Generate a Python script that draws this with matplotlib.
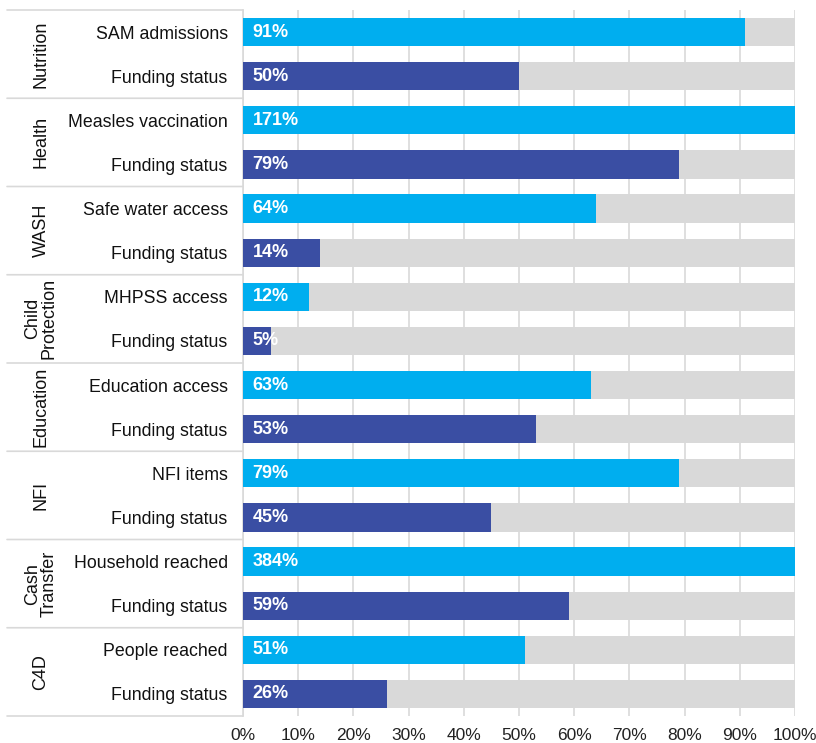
import matplotlib.pyplot as plt
import numpy as np

plt.rcParams['font.family'] = ['Liberation Sans', 'DejaVu Sans']

groups = ['Nutrition', 'Health', 'WASH', 'Child\nProtection', 'Education',
          'NFI', 'Cash\nTransfer', 'C4D']
indicators = ['SAM admissions', 'Measles vaccination', 'Safe water access',
              'MHPSS access', 'Education access', 'NFI items',
              'Household reached', 'People reached']
achieved = [91, 171, 64, 12, 63, 79, 384, 51]
funding = [50, 79, 14, 5, 53, 45, 59, 26]
xticks = [0, 10, 20, 30, 40, 50, 60, 70, 80, 90, 100]

light = '#00AEEF'
dark = '#3A4EA3'
grey = '#D9D9D9'

fig = plt.figure(figsize=(8.16, 7.43), dpi=100)
ax = fig.add_axes([243/816, 1-716/743, 552/816, 706/743])

labels, values, colors = [], [], []
for ind, a, f in zip(indicators, achieved, funding):
    labels += [ind, 'Funding status']
    values += [a, f]
    colors += [light, dark]

n = len(values)
y = np.arange(n)
bh = 0.64
ax.barh(y, [100]*n, height=bh, color=grey, zorder=2)
ax.barh(y, np.minimum(values, 100), height=bh, color=colors, zorder=3)
for yi, v in zip(y, values):
    ax.text(1.7, yi, f'{v}%', color='white', fontweight='bold',
            fontsize=13, va='center', ha='left', zorder=4)

ax.set_ylim(n - 0.5, -0.5)
ax.set_xlim(0, 100)
ax.set_xticks(xticks)
ax.set_xticklabels([f'{t}%' for t in xticks], fontsize=12.5, color='#222222')
ax.tick_params(axis='x', length=0, pad=9)
ax.set_yticks(y)
ax.set_yticklabels(labels, fontsize=12.8, color='#111111')
ax.tick_params(axis='y', length=0, pad=11)
ax.grid(axis='x', color=grey, linewidth=1.2, zorder=0)
for s in ['top', 'right', 'bottom']:
    ax.spines[s].set_visible(False)
ax.spines['left'].set_color(grey)
ax.spines['left'].set_linewidth(1.2)

# group labels and separators
for i, g in enumerate(groups):
    yc = 2*i + 0.5
    ax.annotate(g, xy=(0, yc), xycoords=('axes fraction', 'data'),
                xytext=(-202, 0), textcoords='offset pixels',
                rotation=90, ha='center', va='center', fontsize=13,
                color='#111111', linespacing=0.95)
for k in range(len(groups) + 1):
    yb = 2*k - 0.5
    ax.annotate('', xy=(0, yb), xycoords=('axes fraction', 'data'),
                xytext=(-236, 0), textcoords='offset pixels',
                arrowprops=dict(arrowstyle='-', color=grey, lw=1.2,
                                shrinkA=0, shrinkB=0))

fig.savefig('out.png', dpi=100, facecolor='white')
